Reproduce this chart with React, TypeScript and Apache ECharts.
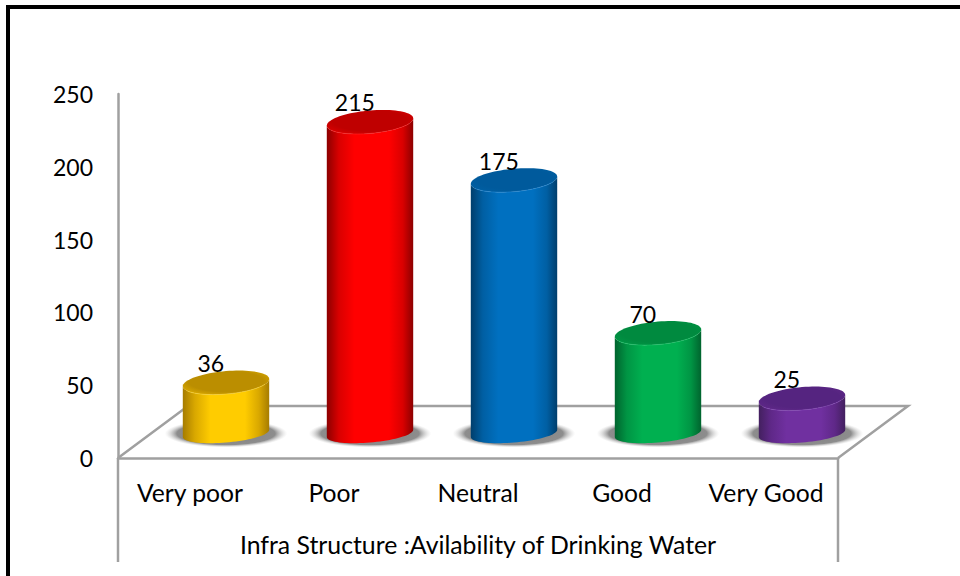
import React, { useEffect, useRef } from "react";
import * as echarts from "echarts";

const categories = ["Very poor", "Poor", "Neutral", "Good", "Very Good"];
const values = [36, 215, 175, 70, 25];
const tickMax = 250;
const tickStep = 50;
const axisTitle = "Infra Structure :Avilability of Drinking Water";
const brightColors = ["#ffcc00", "#ff0000", "#0070c0", "#00b050", "#7030a0"];
const midColors = ["#d9a800", "#d90000", "#005fa3", "#009544", "#5f2888"];
const edgeColors = ["#a67c00", "#8c0000", "#003e6c", "#00642e", "#43205f"];
const topColors = ["#bb8e00", "#bf0000", "#005a9c", "#008a3f", "#552480"];
const rimColors = ["#ffd83a", "#ff2a2a", "#2a8cd8", "#1fc86c", "#8444b8"];

const FONT = "Lato, Carlito, sans-serif";
const GRAY = "#a0a0a0";

function ellipsePoints(cx: number, cy: number, rx: number, ry: number, from: number, to: number, steps: number) {
  const pts: number[][] = [];
  for (let i = 0; i <= steps; i++) {
    const t = from + ((to - from) * i) / steps;
    pts.push([cx + rx * Math.cos(t), cy + ry * Math.sin(t) - 3.6 * Math.cos(t)]);
  }
  return pts;
}

const renderCylinder = (params: any, api: any) => {
  const i = api.value(0);
  const v = api.value(1);
  const band = api.size([1, 0])[0];
  const rx = band * 0.3;
  const [cxBase, yTopRaw] = api.coord([i, v]);
  const [, yZero] = api.coord([i, 0]);
  const cx = cxBase + band * 0.25;
  const yBase = yZero - 24.5;
  const yTop = yTopRaw - 23;
  const ryTop = 11.5;
  const ryBase = 9;
  const bottomFront = ellipsePoints(cx, yBase, rx, ryBase, 0, Math.PI, 40);
  const topFront = ellipsePoints(cx, yTop, rx, ryTop, Math.PI, 0, 40);
  const bright = brightColors[i];
  const edge = edgeColors[i];
  const mid = midColors[i];
  return {
    type: "group",
    children: [
      {
        type: "ellipse",
        shape: { cx: cx, cy: yBase, rx: rx * 1.42, ry: 14 },
        style: {
          fill: new echarts.graphic.RadialGradient(0.5, 0.5, 0.5, [
            { offset: 0, color: "rgba(125,125,125,1)" },
            { offset: 0.8, color: "rgba(135,135,135,0.95)" },
            { offset: 1, color: "rgba(210,210,210,0)" },
          ]),
        },
      },
      {
        type: "polygon",
        shape: { points: [...bottomFront, ...topFront] },
        style: {
          fill: new echarts.graphic.LinearGradient(0, 0, 1, 0, [
            { offset: 0, color: edge },
            { offset: 0.14, color: mid },
            { offset: 0.32, color: bright },
            { offset: 0.72, color: bright },
            { offset: 0.88, color: mid },
            { offset: 1, color: edge },
          ]),
        },
      },
      {
        type: "polygon",
        shape: { points: ellipsePoints(cx, yTop, rx, ryTop, 0, Math.PI * 2, 80) },
        style: {
          fill: new echarts.graphic.RadialGradient(0.5, 0.45, 0.62, [
            { offset: 0, color: topColors[i] },
            { offset: 0.7, color: topColors[i] },
            { offset: 1, color: mid },
          ]),
        },
      },
      {
        type: "polyline",
        shape: { points: ellipsePoints(cx, yTop, rx, ryTop, 0.45, Math.PI - 0.45, 30) },
        style: { fill: "none", stroke: rimColors[i], lineWidth: 1, opacity: 0.55 },
      },
      {
        type: "text",
        z2: 10,
        style: {
          text: String(v),
          x: cxBase + band * 0.145,
          y: yTop - 19.5,
          fill: "#000000",
          fontSize: 23,
          fontFamily: FONT,
          align: "center",
          verticalAlign: "middle",
        },
      },
    ],
  };
};

export default function App() {
  const ref = useRef<HTMLDivElement>(null);
  useEffect(() => {
    document.body.style.margin = "0";
    const chart = echarts.init(ref.current!, null, { renderer: "svg" });
    const lineStyle = { stroke: GRAY, lineWidth: 2.5 };
    chart.setOption({
      animation: false,
      backgroundColor: "#ffffff",
      grid: { left: 118, top: 94, width: 720, height: 364 },
      xAxis: {
        type: "category",
        data: categories,
        axisLine: { show: true, lineStyle: { color: GRAY, width: 2.5 } },
        axisTick: { show: false },
        axisLabel: { interval: 0, color: "#000", fontSize: 24.7, fontFamily: FONT, margin: 22 },
        name: axisTitle,
        nameLocation: "middle",
        nameGap: 86,
        nameTextStyle: { color: "#000", fontSize: 24.8, fontFamily: FONT, verticalAlign: "middle" },
      },
      yAxis: {
        type: "value",
        min: 0,
        max: tickMax,
        interval: tickStep,
        splitLine: { show: false },
        axisLine: { show: true, lineStyle: { color: GRAY, width: 2.5 } },
        axisTick: { show: false },
        axisLabel: { color: "#000", fontSize: 23, fontFamily: FONT, margin: 25 },
      },
      graphic: [
        { type: "rect", silent: true, shape: { x: 6, y: 5, width: 954, height: 4 }, style: { fill: "#000" } },
        { type: "rect", silent: true, shape: { x: 6, y: 5, width: 4, height: 571 }, style: { fill: "#000" } },
        { type: "polyline", silent: true, shape: { points: [[118, 458], [188, 406], [908, 406], [838, 458]] }, style: { ...lineStyle, fill: "none" } },
        { type: "line", silent: true, shape: { x1: 118, y1: 458, x2: 118, y2: 562 }, style: lineStyle },
        { type: "line", silent: true, shape: { x1: 838, y1: 458, x2: 838, y2: 562 }, style: lineStyle },
      ],
      series: [
        {
          type: "custom",
          renderItem: renderCylinder,
          clip: false,
          z: 5,
          encode: { x: 0, y: 1 },
          data: values.map((v, i) => [i, v]),
        },
      ],
    });
    return () => chart.dispose();
  }, []);
  return <div ref={ref} style={{ width: 960, height: 576 }} />;
}
